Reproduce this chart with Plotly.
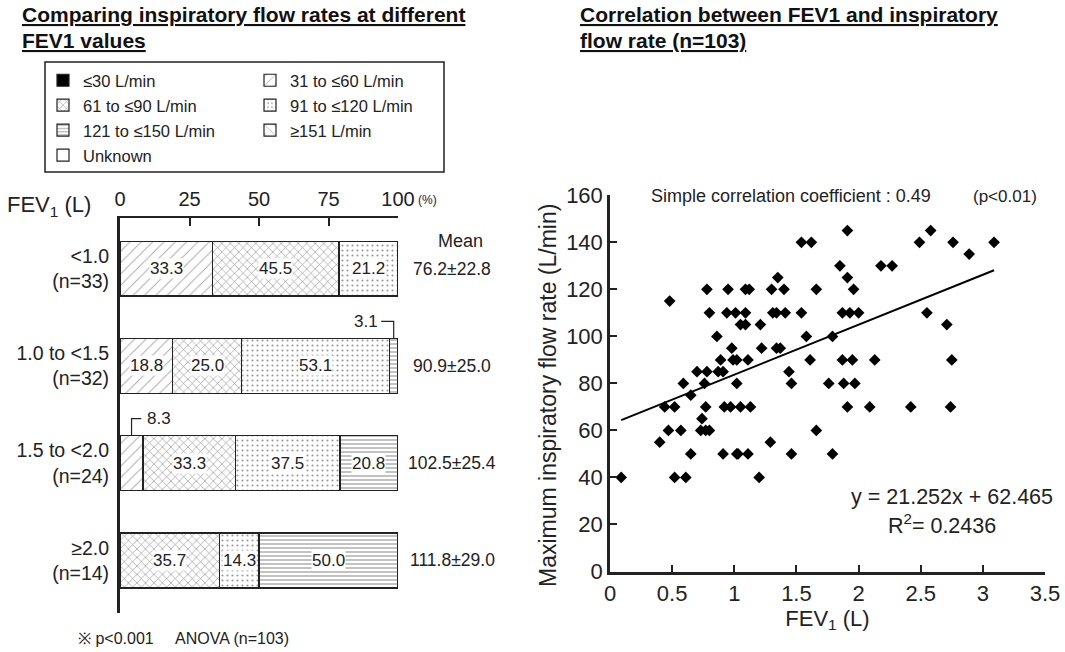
import plotly.graph_objects as go

W, H = 1065, 652
FONT = "Liberation Sans, Arial, sans-serif"

# ---- Left panel: share of peak inspiratory flow categories per FEV1 group ----
fev1_groups = ["<1.0<br>(n=33)", "1.0 to <1.5<br>(n=32)", "1.5 to <2.0<br>(n=24)", "≥2.0<br>(n=14)"]
flow_categories = ["≤30 L/min", "31 to ≤60 L/min", "61 to ≤90 L/min", "91 to ≤120 L/min",
                   "121 to ≤150 L/min", "≥151 L/min", "Unknown"]
pct_le30 = [0, 0, 0, 0]
pct_31_60 = [33.3, 18.8, 8.3, 0]
pct_61_90 = [45.5, 25.0, 33.3, 35.7]
pct_91_120 = [21.2, 53.1, 37.5, 14.3]
pct_121_150 = [0, 3.1, 20.8, 50.0]
pct_ge151 = [0, 0, 0, 0]
pct_unknown = [0, 0, 0, 0]
group_means = ["76.2±22.8", "90.9±25.0", "102.5±25.4", "111.8±29.0"]
x_ticks_pct = [0, 25, 50, 75, 100]

# ---- Right panel: FEV1 vs maximum inspiratory flow rate ----
fev1 = [1.91, 2.58,
        1.54, 1.62, 2.49, 2.76, 3.09,
        2.89,
        1.85, 2.18, 2.27,
        1.35, 1.91,
        0.78, 0.95, 1.09, 1.12, 1.30, 1.40, 1.66, 1.96,
        0.48,
        0.80, 0.94, 1.01, 1.09, 1.31, 1.34, 1.41, 1.54, 1.87, 1.93, 2.00, 2.55,
        1.05, 1.09, 1.21, 2.71,
        0.86, 1.58, 1.79,
        0.98, 1.22, 1.34, 1.37,
        0.89, 0.99, 1.02, 1.11, 1.61, 1.87, 1.95, 2.13, 2.75,
        0.70, 0.78, 0.87, 0.91, 1.44,
        0.59, 0.76, 1.02, 1.46, 1.76, 1.88, 1.97,
        0.65,
        0.44, 0.52, 0.77, 0.92, 0.97, 1.05, 1.13, 1.91, 2.09, 2.42, 2.74,
        0.74,
        0.47, 0.57, 0.73, 0.77, 0.80, 1.66,
        0.40, 1.29,
        0.65, 0.91, 1.02, 1.03, 1.11, 1.46, 1.79,
        0.09, 0.52, 0.61, 1.20]
flow = [145, 145,
        140, 140, 140, 140, 140,
        135,
        130, 130, 130,
        125, 125,
        120, 120, 120, 120, 120, 120, 120, 120,
        115,
        110, 110, 110, 110, 110, 110, 110, 110, 110, 110, 110, 110,
        105, 105, 105, 105,
        100, 100, 100,
        95, 95, 95, 95,
        90, 90, 90, 90, 90, 90, 90, 90, 90,
        85, 85, 85, 85, 85,
        80, 80, 80, 80, 80, 80, 80,
        75,
        70, 70, 70, 70, 70, 70, 70, 70, 70, 70, 70,
        65,
        60, 60, 60, 60, 60, 60,
        55, 55,
        50, 50, 50, 50, 50, 50, 50,
        40, 40, 40, 40]
slope, intercept = 21.252, 62.465
r_squared = 0.2436
corr_coef = 0.49


def px_x(p):
    return p / W


def px_y(p):
    return 1 - p / H


fig = go.Figure()

# stacked bar styles (fill + hatch) per flow category
styles = [
    dict(color="black", pattern=dict(shape="")),
    dict(color="white", pattern=dict(shape="/", fgcolor="#555", size=8, solidity=0.12)),
    dict(color="white", pattern=dict(shape="x", fgcolor="#222", size=6, solidity=0.2)),
    dict(color="white", pattern=dict(shape=".", fgcolor="#333", size=5, solidity=0.15)),
    dict(color="white", pattern=dict(shape="-", fgcolor="#333", size=4, solidity=0.3)),
    dict(color="white", pattern=dict(shape="\\", fgcolor="#555", size=8, solidity=0.12)),
    dict(color="white", pattern=dict(shape="")),
]
series = [pct_le30, pct_31_60, pct_61_90, pct_91_120, pct_121_150, pct_ge151, pct_unknown]
legend_of = ["legend", "legend2", "legend", "legend2", "legend", "legend2", "legend"]
ypos = list(range(len(fev1_groups)))
BAR_W = 0.565

for name, vals, st, lg in zip(flow_categories, series, styles, legend_of):
    fig.add_trace(go.Bar(
        x=vals, y=ypos, orientation="h", name=name, width=BAR_W,
        marker=dict(color=st["color"], pattern=st["pattern"],
                    line=dict(color="#222", width=1.2)),
        legend=lg, legendgroup=name, xaxis="x", yaxis="y", hoverinfo="skip",
    ))

annotations = []
shapes = []

# value labels on each segment
for gi in ypos:
    cum = 0.0
    for vals in series:
        v = vals[gi]
        if v <= 0:
            continue
        mid = cum + v / 2
        if v >= 10:
            annotations.append(dict(x=mid, y=gi, xref="x", yref="y", text=f"{v:.1f}",
                                    showarrow=False, bgcolor="white", borderpad=0,
                                    font=dict(size=17, color="#222")))
        else:
            top = gi - BAR_W / 2
            elbow = top - 0.175
            if mid > 50:
                end = mid - 4.5
                shapes.append(dict(type="path", xref="x", yref="y",
                                   path=f"M{end},{elbow} L{mid},{elbow} L{mid},{top}",
                                   line=dict(color="#222", width=1.2)))
                annotations.append(dict(x=end - 0.5, y=elbow, xref="x", yref="y", text=f"{v:.1f}",
                                        xanchor="right", showarrow=False,
                                        font=dict(size=17, color="#222")))
            else:
                end = mid + 3.5
                shapes.append(dict(type="path", xref="x", yref="y",
                                   path=f"M{mid},{top} L{mid},{elbow} L{end},{elbow}",
                                   line=dict(color="#222", width=1.2)))
                annotations.append(dict(x=end + 1.5, y=elbow, xref="x", yref="y", text=f"{v:.1f}",
                                        xanchor="left", showarrow=False,
                                        font=dict(size=17, color="#222")))
        cum += v

# mean ± SD column
annotations.append(dict(x=px_x(460), y=-0.28, xref="paper", yref="y", text="Mean",
                        showarrow=False, font=dict(size=18, color="#222")))
for gi, m in zip(ypos, group_means):
    annotations.append(dict(x=px_x(452), y=gi, xref="paper", yref="y", text=m,
                            showarrow=False, font=dict(size=17.5, color="#222")))

# panel titles and notes
annotations += [
    dict(x=px_x(20), y=px_y(15), xref="paper", yref="paper", xanchor="left", yanchor="middle",
         text="<b><u>Comparing inspiratory flow rates at different</u></b>", showarrow=False,
         font=dict(size=21, color="#111")),
    dict(x=px_x(20), y=px_y(41), xref="paper", yref="paper", xanchor="left", yanchor="middle",
         text="<b><u>FEV1 values</u></b>", showarrow=False, font=dict(size=21, color="#111")),
    dict(x=px_x(578), y=px_y(15), xref="paper", yref="paper", xanchor="left", yanchor="middle",
         text="<b><u>Correlation between FEV1 and inspiratory</u></b>", showarrow=False,
         font=dict(size=21, color="#111")),
    dict(x=px_x(578), y=px_y(41), xref="paper", yref="paper", xanchor="left", yanchor="middle",
         text="<b><u>flow rate (n=103)</u></b>", showarrow=False, font=dict(size=21, color="#111")),
    dict(x=px_x(5), y=px_y(206), xref="paper", yref="paper", xanchor="left", yanchor="middle",
         text="FEV<sub>1</sub> (L)", showarrow=False, font=dict(size=22, color="#222")),
    dict(x=px_x(416), y=px_y(200), xref="paper", yref="paper", xanchor="left", yanchor="middle",
         text="(%)", showarrow=False, font=dict(size=12, color="#222")),
    dict(x=px_x(76), y=px_y(638), xref="paper", yref="paper", xanchor="left", yanchor="middle",
         text="※ p<0.001     ANOVA (n=103)", showarrow=False, font=dict(size=16, color="#222")),
    dict(x=px_x(649), y=px_y(196), xref="paper", yref="paper", xanchor="left", yanchor="middle",
         text=f"Simple correlation coefficient : {corr_coef:.2f}", showarrow=False,
         font=dict(size=18, color="#222")),
    dict(x=px_x(1039), y=px_y(196), xref="paper", yref="paper", xanchor="right", yanchor="middle",
         text="(p<0.01)", showarrow=False, font=dict(size=17, color="#222")),
    dict(x=px_x(1055), y=px_y(497), xref="paper", yref="paper", xanchor="right", yanchor="middle",
         text=f"y = {slope}x + {intercept}", showarrow=False, font=dict(size=21.5, color="#222")),
    dict(x=px_x(942), y=px_y(524), xref="paper", yref="paper", xanchor="center", yanchor="middle",
         text=f"R<sup>2</sup>= {r_squared}", showarrow=False, font=dict(size=21.5, color="#222")),
    # y-axis title of the scatter panel
    dict(x=px_x(548), y=px_y(396), xref="paper", yref="paper", xanchor="center", yanchor="middle",
         text="Maximum inspiratory flow rate (L/min)", textangle=-90, showarrow=False,
         font=dict(size=23, color="#222")),
]

# legend frame
shapes.append(dict(type="rect", xref="paper", yref="paper",
                   x0=px_x(45), x1=px_x(444), y0=px_y(172), y1=px_y(62),
                   line=dict(color="#222", width=1.5), fillcolor="rgba(0,0,0,0)"))

# scatter + regression line
fig.add_trace(go.Scatter(
    x=fev1, y=flow, mode="markers", xaxis="x2", yaxis="y2", showlegend=False,
    marker=dict(symbol="diamond", size=9, color="black"), hoverinfo="skip",
))
x_fit = [min(fev1), max(fev1)]
fig.add_trace(go.Scatter(
    x=x_fit, y=[slope * v + intercept for v in x_fit], mode="lines",
    xaxis="x2", yaxis="y2", showlegend=False, line=dict(color="black", width=2),
    hoverinfo="skip",
))

legend_common = dict(bgcolor="rgba(0,0,0,0)", borderwidth=0, font=dict(size=16.5, color="#222", family=FONT),
                     xanchor="left", yanchor="top", traceorder="grouped", tracegroupgap=0.5,
                     orientation="v", itemclick=False, itemdoubleclick=False)

fig.update_layout(
    width=W, height=H, margin=dict(l=0, r=0, t=0, b=0, autoexpand=False),
    paper_bgcolor="white", plot_bgcolor="white",
    font=dict(family=FONT, color="#222"),
    barmode="stack", bargap=0.4,
    showlegend=True,
    legend=dict(x=px_x(43), y=px_y(63), **legend_common),
    legend2=dict(x=px_x(250), y=px_y(63), **legend_common),
    xaxis=dict(domain=[px_x(120), px_x(398)], range=[0, 100], side="top", anchor="y",
               tickvals=x_ticks_pct, ticks="inside", ticklen=8, tickwidth=1.5, tickcolor="#222",
               showline=True, linewidth=2, linecolor="#222", showgrid=False, zeroline=False,
               tickfont=dict(size=20), ticklabelstandoff=2, fixedrange=True, automargin=False),
    yaxis=dict(domain=[px_y(613), px_y(218)], range=[3.54, -0.52], anchor="x",
               tickvals=ypos, ticktext=fev1_groups, ticks="", showline=True, linewidth=3,
               linecolor="#222", showgrid=False, zeroline=False, tickfont=dict(size=19.5),
               ticklabelstandoff=4, fixedrange=True, automargin=False),
    xaxis2=dict(domain=[px_x(610), px_x(1045)], range=[0, 3.5], anchor="y2",
                tickvals=[0, 0.5, 1, 1.5, 2, 2.5, 3, 3.5], ticks="inside", ticklen=7, tickwidth=1.5,
                tickcolor="#222", showline=True, linewidth=2.5, linecolor="#222", showgrid=False,
                zeroline=False, tickfont=dict(size=22), automargin=False,
                title=dict(text="FEV<sub>1</sub> (L)", font=dict(size=22), standoff=6)),
    yaxis2=dict(domain=[px_y(571.5), px_y(195.3)], range=[0, 160], anchor="x2",
                tickvals=list(range(0, 161, 20)), ticks="inside", ticklen=7, tickwidth=1.5,
                tickcolor="#222", showline=True, linewidth=2.5, linecolor="#222", showgrid=False,
                zeroline=False, tickfont=dict(size=22), automargin=False),
    annotations=annotations,
    shapes=shapes,
)

fig.write_html("out.html")
